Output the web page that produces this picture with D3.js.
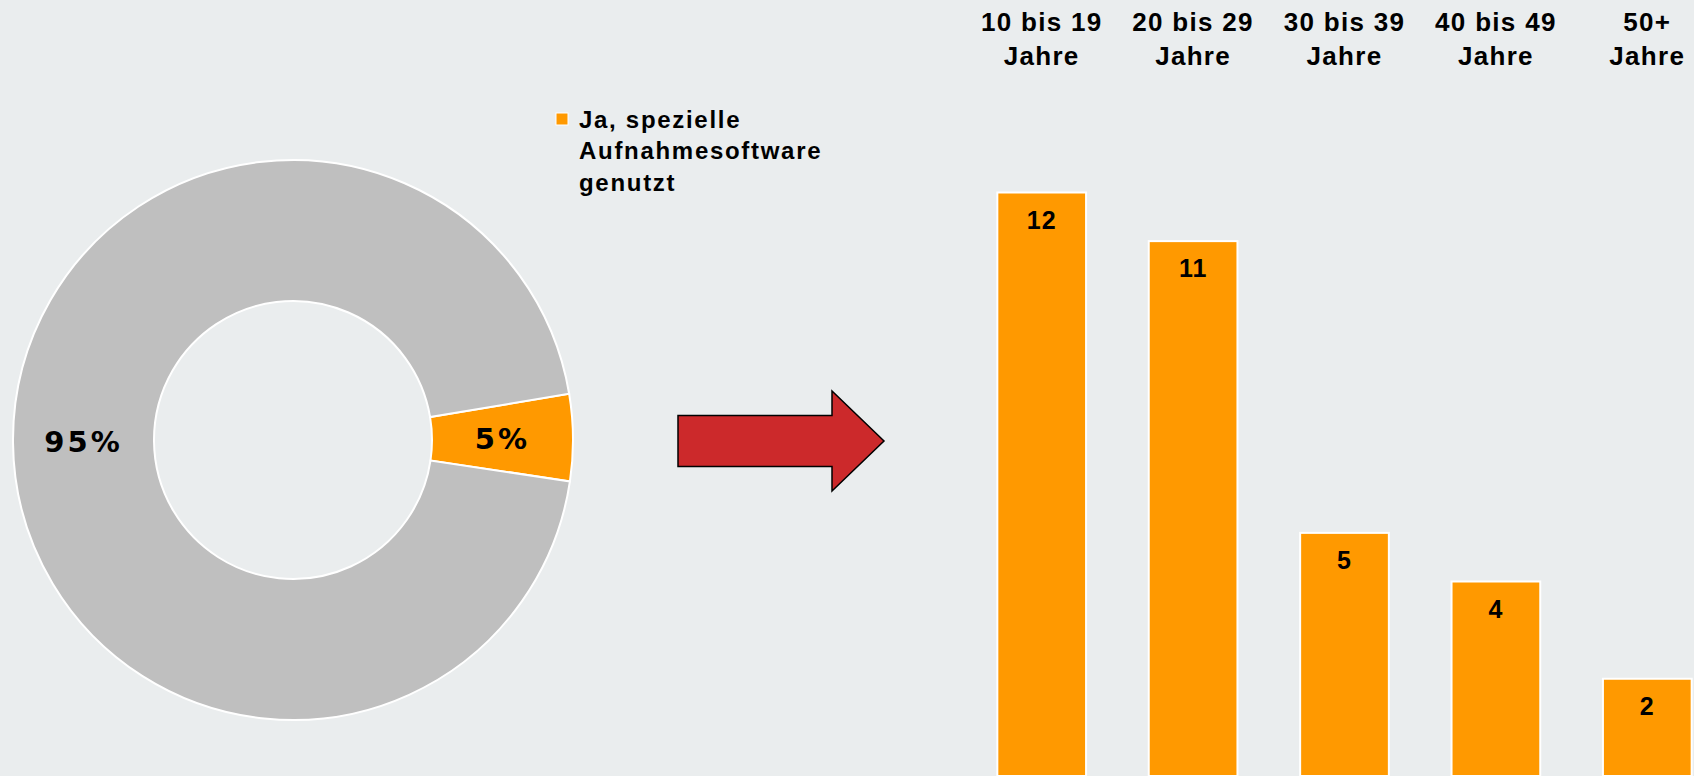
<!DOCTYPE html>
<html>
<head>
<meta charset="utf-8">
<script src="https://cdn.jsdelivr.net/npm/d3@7"></script>
<style>
  body { margin: 0; background: #eaedee; }
  svg { display: block; }
  text { font-family: "Liberation Sans", Arial, sans-serif; font-weight: bold; fill: #000; }
</style>
</head>
<body>
<script>
// donut data
var pieLabels = ["Ja, spezielle Aufnahmesoftware genutzt", "Nein"];
var pieValues = [5, 95];
var pieColors = ["#ff9900", "#bfbfbf"];
var legendLines = ["Ja, spezielle", "Aufnahmesoftware", "genutzt"];

// bar data
var ageGroups = ["10 bis 19|Jahre", "20 bis 29|Jahre", "30 bis 39|Jahre", "40 bis 49|Jahre", "50+|Jahre"];
var ageValues = [12, 11, 5, 4, 2];

var w = 1694,
    h = 776;

var svg = d3.select("body")
  .append("svg")
  .attr("width", w)
  .attr("height", h);

// ---- donut ----
var cx = 293, cy = 440,
    rOuter = 280, rInner = 139;

var pie = d3.pie()
  .sort(null)
  .startAngle(80.5 * Math.PI / 180)
  .endAngle(80.5 * Math.PI / 180 + 2 * Math.PI);

var arc = d3.arc()
  .innerRadius(rInner)
  .outerRadius(rOuter);

var donut = svg.append("g")
  .attr("transform", "translate(" + cx + "," + cy + ")");

var arcs = pie(pieValues);

donut.selectAll("path")
  .data(arcs)
  .enter()
  .append("path")
  .attr("d", arc)
  .attr("fill", function (d, i) { return pieColors[i]; })
  .attr("stroke", "#fff")
  .attr("stroke-width", 2);

donut.selectAll("text")
  .data(arcs)
  .enter()
  .append("text")
  .attr("transform", function (d) { return "translate(" + arc.centroid(d) + ")"; })
  .attr("text-anchor", "middle")
  .attr("dy", "0.36em")
  .style("font-family", "'DejaVu Sans', sans-serif")
  .style("font-size", "29px")
  .style("letter-spacing", "3px")
  .text(function (d) { return d.value + "%"; });

// legend
var legend = svg.append("g")
  .attr("transform", "translate(562,119)");

legend.append("rect")
  .attr("x", -6).attr("y", -6)
  .attr("width", 12).attr("height", 12)
  .attr("fill", pieColors[0])
  .attr("stroke", "#fff")
  .attr("stroke-width", 1);

legend.selectAll("text")
  .data(legendLines)
  .enter()
  .append("text")
  .attr("x", 17)
  .attr("y", function (d, i) { return i * 31.5; })
  .attr("dy", "0.36em")
  .style("font-size", "24px")
  .style("letter-spacing", "1.7px")
  .text(function (d) { return d; });

// ---- arrow ----
var ax = 678, ay = 441, bodyH = 51, headX = 832, headH = 100, tipX = 884;
svg.append("path")
  .attr("d", "M" + ax + "," + (ay - bodyH / 2) +
             "H" + headX + "V" + (ay - headH / 2) +
             "L" + tipX + "," + ay +
             "L" + headX + "," + (ay + headH / 2) +
             "V" + (ay + bodyH / 2) + "H" + ax + "Z")
  .attr("fill", "#cc292b")
  .attr("stroke", "#000")
  .attr("stroke-width", 1.5);

// ---- bars ----
var xScale = d3.scaleBand()
  .domain(ageGroups)
  .range([966, 1723])
  .paddingInner(0.414)
  .paddingOuter(0.207);

var yScale = d3.scaleLinear()
  .domain([0, 12])
  .range([h, 192.5]);

var bars = svg.append("g");

bars.selectAll("rect")
  .data(ageValues)
  .enter()
  .append("rect")
  .attr("x", function (d, i) { return xScale(ageGroups[i]); })
  .attr("y", function (d) { return yScale(d); })
  .attr("width", xScale.bandwidth())
  .attr("height", function (d) { return h - yScale(d); })
  .attr("fill", "#ff9900")
  .attr("stroke", "#fff")
  .attr("stroke-width", 2);

bars.selectAll("text.val")
  .data(ageValues)
  .enter()
  .append("text")
  .attr("class", "val")
  .attr("x", function (d, i) { return xScale(ageGroups[i]) + xScale.bandwidth() / 2; })
  .attr("y", function (d) { return yScale(d) + 27; })
  .attr("dy", "0.36em")
  .attr("text-anchor", "middle")
  .style("font-size", "25px")
  .style("letter-spacing", "1px")
  .text(function (d) { return d; });

// category labels along the top
var cats = svg.append("g");
ageGroups.forEach(function (g) {
  var parts = g.split("|");
  var t = cats.append("text")
    .attr("text-anchor", "middle")
    .style("font-size", "26px")
    .style("letter-spacing", "1.3px");
  parts.forEach(function (p, j) {
    t.append("tspan")
      .attr("x", xScale(g) + xScale.bandwidth() / 2)
      .attr("y", 22 + j * 34)
      .attr("dy", "0.36em")
      .text(p);
  });
});
</script>
</body>
</html>
